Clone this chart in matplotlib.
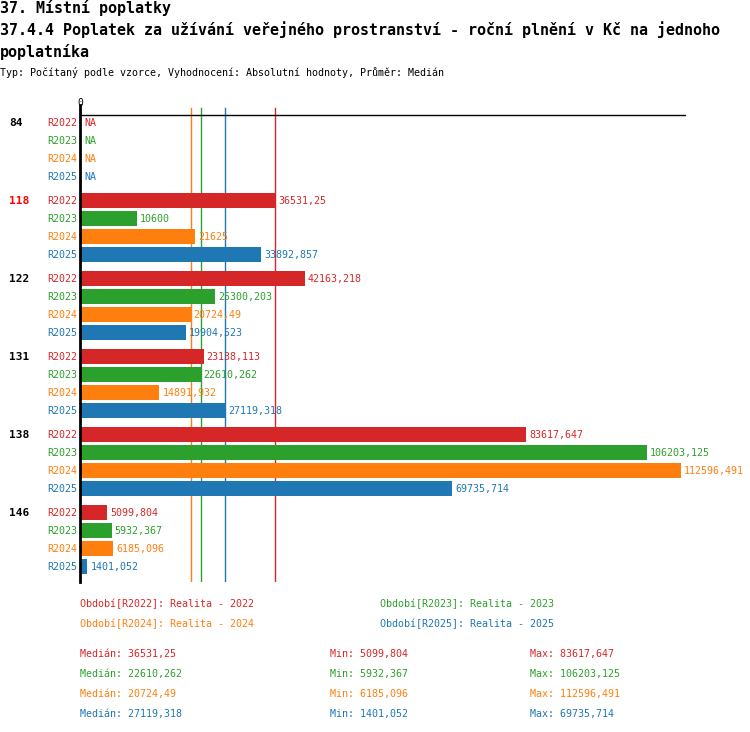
"""
Poplatek za užívání veřejného prostranství - horizontal grouped bars per obec.
"""

import numpy as np
import matplotlib.pyplot as plt

plt.rcParams["font.family"] = ["DejaVu Sans Mono", "DejaVu Sans"]

# Data
GROUPS = ["84", "118", "122", "131", "138", "146"]
PERIODS = ["R2022", "R2023", "R2024", "R2025"]
R2022 = [np.nan, 36531.25, 42163.218, 23138.113, 83617.647, 5099.804]
R2023 = [np.nan, 10600, 25300.203, 22610.262, 106203.125, 5932.367]
R2024 = [np.nan, 21625, 20724.49, 14891.932, 112596.491, 6185.096]
R2025 = [np.nan, 33892.857, 19904.523, 27119.318, 69735.714, 1401.052]
HIGHLIGHT = "118"

COLORS = ["#d62728", "#2ca02c", "#ff7f0e", "#1f77b4"]
W, H = 750, 732


def fmt(v):
    s = ("%.3f" % v).rstrip("0").rstrip(".")
    return s.replace(".", ",")


def fx(px):
    return px / W


def fy(py):
    return 1 - py / H


series = [np.array(R2022), np.array(R2023), np.array(R2024), np.array(R2025)]
medians = [np.nanmedian(s) for s in series]
mins = [np.nanmin(s) for s in series]
maxs = [np.nanmax(s) for s in series]

fig = plt.figure(figsize=(W / 100, H / 100), dpi=100)

# Titles
fig.text(fx(0), fy(8), "37. Místní poplatky", fontsize=10.8, fontweight="bold", va="center")
fig.text(fx(0), fy(30), "37.4.4 Poplatek za užívání veřejného prostranství - roční plnění v Kč na jednoho",
         fontsize=10.8, fontweight="bold", va="center")
fig.text(fx(0), fy(52), "poplatníka", fontsize=10.8, fontweight="bold", va="center")
fig.text(fx(0), fy(73), "Typ: Počítaný podle vzorce, Vyhodnocení: Absolutní hodnoty, Průměr: Medián",
         fontsize=7.2, va="center")

# Plot area (y in pixel rows)
top, bottom, left, right = 105, 582, 80, 686
ax = fig.add_axes([fx(left), fy(bottom), fx(right - left), (bottom - top) / H])
xmax = 112596.491 * (right - left) / (681 - left)
ax.set_xlim(0, xmax)
ax.set_ylim(bottom, top)
ax.axis("off")

ax.axhline(115, color="black", linewidth=1)
ax.plot([0, 0], [top, bottom], color="black", linewidth=2, clip_on=False, zorder=3)
fig.text(fx(left), fy(103), "0", fontsize=7, ha="center", va="center")

for med, c in zip(medians, COLORS):
    ax.plot([med, med], [108, bottom], color=c, linewidth=1, zorder=0.5)

for g, name in enumerate(GROUPS):
    y0 = 123 + g * 78
    gcol = "red" if name == HIGHLIGHT else "black"
    fig.text(fx(9), fy(y0), name, fontsize=8, fontweight="bold", color=gcol, va="center")
    for r, (per, s, c) in enumerate(zip(PERIODS, series, COLORS)):
        y = y0 + r * 18
        fig.text(fx(77), fy(y), per, fontsize=7.2, color=c, ha="right", va="center")
        v = s[g]
        if np.isnan(v):
            ax.annotate("NA", (0, y), xytext=(4, 0), textcoords="offset pixels",
                        fontsize=7.2, color=c, va="center")
        else:
            ax.barh(y, v, height=15, color=c, zorder=1)
            ax.annotate(fmt(v), (v, y), xytext=(3, 0), textcoords="offset pixels",
                        fontsize=7.2, color=c, va="center")

# Legend
leg_pos = [(80, 604), (380, 604), (80, 624), (380, 624)]
for (px, py), per, c in zip(leg_pos, PERIODS, COLORS):
    fig.text(fx(px), fy(py), f"Období[{per}]: Realita - {per[1:]}", fontsize=7.2, color=c, va="center")

# Stats
for i, c in enumerate(COLORS):
    py = 654 + i * 20
    fig.text(fx(80), fy(py), f"Medián: {fmt(medians[i])}", fontsize=7.2, color=c, va="center")
    fig.text(fx(330), fy(py), f"Min: {fmt(mins[i])}", fontsize=7.2, color=c, va="center")
    fig.text(fx(530), fy(py), f"Max: {fmt(maxs[i])}", fontsize=7.2, color=c, va="center")

plt.savefig("out.png", dpi=100)
plt.close()
